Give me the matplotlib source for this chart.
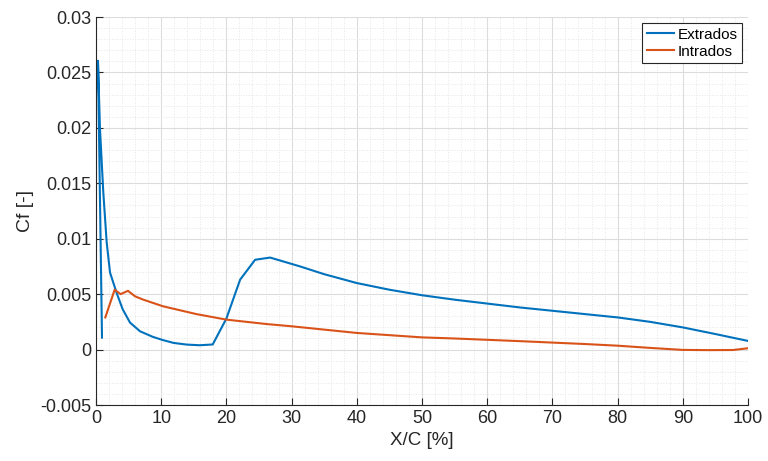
import numpy as np
import matplotlib
matplotlib.use('Agg')
import matplotlib.pyplot as plt
from matplotlib.ticker import MultipleLocator

plt.rcParams['font.family'] = ['Liberation Sans', 'DejaVu Sans']

# extrados (upper surface) skin friction
x_ext = [0.92, 0.3, 0.61, 1.12, 1.64, 2.15, 3.17, 4.09, 5.21, 6.75, 8.7, 10.3, 11.9,
         13.9, 15.9, 17.9, 20.0, 22.1, 24.4, 26.7, 29.0, 31.3, 35.0, 40.0, 45.0, 50.0,
         55.0, 60.0, 65.0, 70.0, 75.0, 80.0, 85.0, 90.0, 95.0, 100.0]
cf_ext = [0.00108, 0.02605, 0.0199, 0.01417, 0.00966, 0.00695, 0.0051, 0.00364,
          0.00244, 0.00165, 0.00115, 0.00085, 0.0006, 0.00045, 0.00039, 0.00046,
          0.0028, 0.0063, 0.0081, 0.0083, 0.0079, 0.0075, 0.0068, 0.0060, 0.0054,
          0.0049, 0.0045, 0.00415, 0.0038, 0.0035, 0.0032, 0.0029, 0.0025, 0.0020,
          0.0014, 0.00078]

# intrados (lower surface) skin friction
x_int = [1.43, 2.86, 3.78, 4.9, 6.0, 7.26, 10.3, 15.4, 20.0, 26.2, 30.0, 35.0, 40.0,
         45.0, 50.0, 55.0, 60.0, 65.0, 70.0, 75.0, 80.0, 85.0, 90.0, 94.0, 97.7, 100.0]
cf_int = [0.0029, 0.0054, 0.0050, 0.0053, 0.0048, 0.0045, 0.0039, 0.0032, 0.0027,
          0.0023, 0.0021, 0.0018, 0.0015, 0.0013, 0.0011, 0.001, 0.00088, 0.00076,
          0.00063, 0.0005, 0.00035, 0.00015, -0.00003, -0.00005, -0.00004, 0.00012]

fig = plt.figure(figsize=(7.68, 4.61), dpi=100)
ax = fig.add_axes([96/768, 1 - 405/461, (748-96)/768, (405-17)/461])

ax.plot(x_ext, cf_ext, color='#0072BD', lw=1.5, label='Extrados')
ax.plot(x_int, cf_int, color='#D95319', lw=1.5, label='Intrados')

ax.set_xlim(0, 100)
ax.set_ylim(-0.005, 0.03)
ax.xaxis.set_major_locator(MultipleLocator(10))
ax.xaxis.set_minor_locator(MultipleLocator(2))
ax.yaxis.set_major_locator(MultipleLocator(0.005))
ax.yaxis.set_minor_locator(MultipleLocator(0.001))
ax.set_yticks(np.arange(-0.005, 0.0301, 0.005))
ax.set_yticklabels(['-0.005', '0', '0.005', '0.01', '0.015', '0.02', '0.025', '0.03'])

ax.grid(which='major', color='#dcdcdc', lw=0.8, ls='-')
ax.grid(which='minor', color='#e6e6e6', lw=0.7, ls=':')
ax.set_axisbelow(True)

for s in ['top', 'right']:
    ax.spines[s].set_visible(False)
for s in ['left', 'bottom']:
    ax.spines[s].set_color('#262626')
    ax.spines[s].set_linewidth(0.8)

ax.tick_params(which='major', direction='in', length=5, labelsize=13, colors='#262626')
ax.tick_params(which='minor', direction='in', length=0)

ax.set_xlabel('X/C [%]', fontsize=13.5, color='#262626')
ax.set_ylabel('Cf [-]', fontsize=14, color='#262626')

leg = ax.legend(loc='upper right', fontsize=11, fancybox=False, framealpha=1,
                edgecolor='#262626', handlelength=1.8, handletextpad=0.2,
                borderpad=0.3, labelspacing=0.2, borderaxespad=0.4)
leg.get_frame().set_linewidth(0.8)

fig.savefig('out.png', dpi=100)
